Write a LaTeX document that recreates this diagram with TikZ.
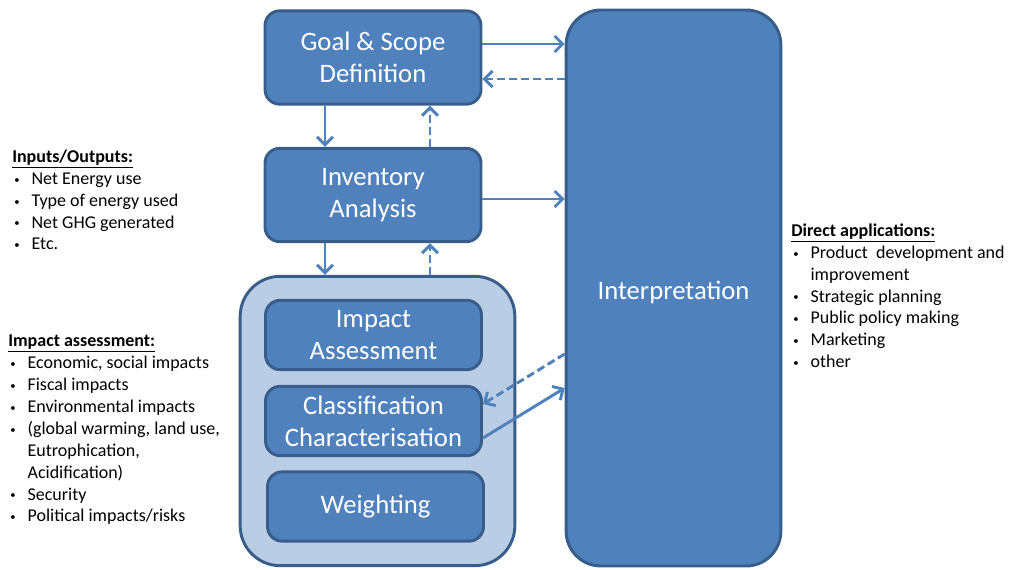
\documentclass[tikz,border=0pt]{standalone}
\usepackage{fontspec}
\setmainfont{Carlito}
\usepackage{tikz}
\usetikzlibrary{arrows.meta,positioning}
\definecolor{boxblue}{HTML}{4F81BD}
\definecolor{boxedge}{HTML}{385D8A}
\definecolor{lightblue}{HTML}{B9CDE5}
\newcommand{\bitem}[1]{\makebox[14.5pt][l]{\hspace{1.5pt}\raisebox{1pt}{\footnotesize\textbullet}}#1}
\newcommand{\bcont}[1]{\hspace*{14.5pt}#1}

\begin{document}
\begin{tikzpicture}[x=0.75pt,y=-0.75pt]
\tikzstyle{stage}=[rectangle,rounded corners=11pt,draw=boxedge,line width=2.2pt,fill=boxblue,text=white,align=center,font=\fontsize{20}{24}\selectfont,minimum width=162pt]
\tikzstyle{flow}=[boxblue,line width=2.2pt,-{Straight Barb[length=6pt,width=12pt]}]
\tikzstyle{back}=[flow,dash pattern=on 6pt off 3pt]
\tikzstyle{notes}=[anchor=north west,inner sep=0pt,align=left,font=\fontsize{13.5}{16.3}\selectfont]
\useasboundingbox (0,0) rectangle (1009,569);
% outer impact block and interpretation
\node[rectangle,rounded corners=30pt,draw=boxedge,line width=2.2pt,fill=lightblue,minimum width=206pt,minimum height=217pt] (lcia) at (377.5,421) {};
\node[stage,rounded corners=26pt,minimum width=161pt,minimum height=417pt] (interp) at (673.5,288) {\raisebox{-3pt}[\height][\depth]{Interpretation}};
% stages
\node[stage,minimum height=70pt] (goal) at (373,57.5) {Goal \& Scope\\Definition};
\node[stage,minimum height=70pt] (inv) at (373,195) {Inventory\\Analysis};
\node[stage,minimum height=52pt] (impact) at (373.5,335) {Impact\\Assessment};
\node[stage,minimum height=52pt] (class) at (373.5,421) {Classification\\Characterisation};
\node[stage,minimum height=52pt] (weight) at (375.5,506.5) {Weighting};
% connectors
\draw[flow] (goal.east |- 0,44) -- (interp.west |- 0,44);
\draw[back] (interp.west |- 0,79) -- (goal.east |- 0,79);
\draw[flow] (goal.south -| 325,0) -- (inv.north -| 325,0);
\draw[back] (inv.north -| 430,0) -- (goal.south -| 430,0);
\draw[flow] (inv.east |- 0,199) -- (interp.west |- 0,199);
\draw[flow] (inv.south -| 325,0) -- (lcia.north -| 325,0);
\draw[back] (lcia.north -| 430,0) -- (inv.south -| 430,0);
\draw[back] (interp.west |- 0,354) -- (class.east |- 0,404);
\draw[flow] (class.east |- 0,438) -- (interp.west |- 0,388);
% side notes
\node[notes] (io) at (12,150) {\underline{\textbf{Inputs/Outputs:}}\\
\bitem{Net Energy use}\\
\bitem{Type of energy used}\\
\bitem{Net GHG generated}\\
\bitem{Etc.}};
\node[notes,font=\fontsize{13.5}{16.4}\selectfont] (ia) at (8,335) {\underline{\textbf{Impact assessment:}}\\
\bitem{Economic, social impacts}\\
\bitem{Fiscal impacts}\\
\bitem{Environmental impacts}\\
\bitem{(global warming, land use,}\\
\bcont{Eutrophication,}\\
\bcont{Acidification)}\\
\bitem{Security}\\
\bitem{Political impacts/risks}};
\node[notes] (apps) at (791,224) {\underline{\textbf{Direct applications:}}\\
\bitem{Product\ \ development and}\\
\bcont{improvement}\\
\bitem{Strategic planning}\\
\bitem{Public policy making}\\
\bitem{Marketing}\\
\bitem{other}};
\end{tikzpicture}
\end{document}
